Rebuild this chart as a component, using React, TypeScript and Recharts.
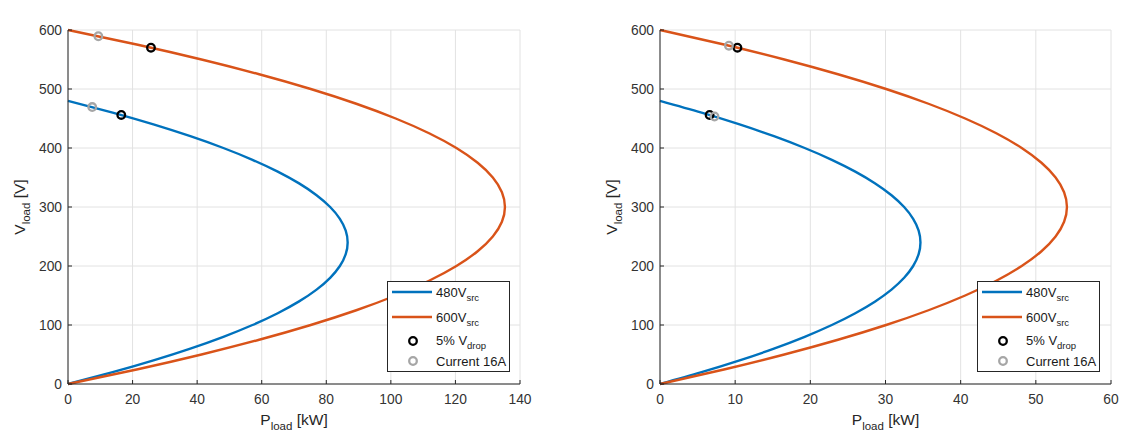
import React from 'react';
import { ComposedChart, Line, XAxis, YAxis, CartesianGrid, Legend } from 'recharts';

const BLUE = '#0072BD';
const ORANGE = '#D95319';
const AXIS = '#262626';
const GRID = '#e2e2e2';
const GRAY = '#a6a6a6';

// load voltage samples [V]
const vload480 = [0, 20, 40, 60, 80, 100, 120, 140, 160, 180, 200, 220, 240, 260, 280, 300, 320, 340, 360, 380, 400, 420, 440, 460, 480];
const vload600 = [0, 25, 50, 75, 100, 125, 150, 175, 200, 225, 250, 275, 300, 325, 350, 375, 400, 425, 450, 475, 500, 525, 550, 575, 600];

// load power [kW], 40 m cable
const pload480At40m = [0, 13.83, 26.47, 37.89, 48.12, 57.14, 64.96, 71.58, 76.99, 81.2, 84.21, 86.02, 86.62, 86.02, 84.21, 81.2, 76.99, 71.58, 64.96, 57.14, 48.12, 37.89, 26.47, 13.83, 0];
const pload600At40m = [0, 21.62, 41.35, 59.21, 75.19, 89.29, 101.5, 111.84, 120.3, 126.88, 131.58, 134.4, 135.34, 134.4, 131.58, 126.88, 120.3, 111.84, 101.5, 89.29, 75.19, 59.21, 41.35, 21.62, 0];

// 100 m cable
const pload480At100m = [0, 5.53, 10.59, 15.16, 19.25, 22.86, 25.98, 28.63, 30.8, 32.48, 33.68, 34.41, 34.65, 34.41, 33.68, 32.48, 30.8, 28.63, 25.98, 22.86, 19.25, 15.16, 10.59, 5.53, 0];
const pload600At100m = [0, 8.65, 16.54, 23.68, 30.08, 35.72, 40.6, 44.74, 48.12, 50.75, 52.63, 53.76, 54.14, 53.76, 52.63, 50.75, 48.12, 44.74, 40.6, 35.72, 30.08, 23.68, 16.54, 8.65, 0];

// markers: 480V curve first, then 600V curve
const drop5V = [456, 570];
const drop5PAt40m = [16.5, 25.7];
const drop5PAt100m = [6.6, 10.3];
const cur16VAt40m = [469.4, 589.4];
const cur16PAt40m = [7.5, 9.4];
const cur16VAt100m = [453.4, 573.4];
const cur16PAt100m = [7.25, 9.17];

const xTicks40m = [0, 20, 40, 60, 80, 100, 120, 140];
const xTicks100m = [0, 10, 20, 30, 40, 50, 60];
const yTicks = [0, 100, 200, 300, 400, 500, 600];

const toRows = (p: number[], v: number[]) => p.map((x, i) => ({ p: x, v: v[i] }));

function PlotTitle({ viewBox, text }: any) {
  const { x, y, width } = viewBox;
  return (
    <text x={x + width / 2} y={y - 7} textAnchor="middle" fontSize={15} fontWeight="bold" fill="#000">
      {text}
    </text>
  );
}

function XTitle({ viewBox }: any) {
  const { x, y, width } = viewBox;
  return (
    <text x={x + width / 2} y={y + 41} textAnchor="middle" fontSize={15.5} fill={AXIS}>
      <tspan>P</tspan>
      <tspan dy={5} fontSize={11.5}>load</tspan>
      <tspan dy={-5}> [kW]</tspan>
    </text>
  );
}

function YTitle({ viewBox }: any) {
  const { x, y, height } = viewBox;
  const cx = x - 3;
  const cy = y + height / 2;
  return (
    <text transform={`translate(${cx},${cy}) rotate(-90)`} textAnchor="middle" fontSize={15.5} fill={AXIS}>
      <tspan>V</tspan>
      <tspan dy={5} fontSize={11.5}>load</tspan>
      <tspan dy={-5}> [V]</tspan>
    </text>
  );
}

function LegendBox() {
  return (
    <svg width={123} height={91} style={{ display: 'block' }}>
      <rect x={0.5} y={0.5} width={122} height={90} fill="#fff" stroke={AXIS} />
      <line x1={5} x2={45} y1={11} y2={11} stroke={BLUE} strokeWidth={2.4} />
      <text x={49} y={16} fontSize={13} fill="#1a1a1a">
        480V<tspan dy={4} fontSize={9.5}>src</tspan>
      </text>
      <line x1={5} x2={45} y1={36} y2={36} stroke={ORANGE} strokeWidth={2.4} />
      <text x={49} y={41} fontSize={13} fill="#1a1a1a">
        600V<tspan dy={4} fontSize={9.5}>src</tspan>
      </text>
      <circle cx={26} cy={60} r={3.8} fill="none" stroke="#000" strokeWidth={2.3} />
      <text x={49} y={64} fontSize={13} fill="#1a1a1a">
        5% V<tspan dy={4} fontSize={9.5}>drop</tspan>
      </text>
      <circle cx={26} cy={80} r={3.8} fill="none" stroke={GRAY} strokeWidth={2.3} />
      <text x={49} y={85} fontSize={13} fill="#1a1a1a">
        Current 16A
      </text>
    </svg>
  );
}

interface PanelProps {
  title: string;
  width: number;
  marginLeft: number;
  marginRight: number;
  legendLeft: number;
  xMax: number;
  xTicks: number[];
  p480: number[];
  p600: number[];
  drop5P: number[];
  cur16P: number[];
  cur16V: number[];
}

function Panel(props: PanelProps) {
  const { title, width, marginLeft, marginRight, legendLeft, xMax, xTicks } = props;
  const tick = { fill: '#333', fontSize: 13.8 };
  return (
    <ComposedChart
      width={width}
      height={432}
      margin={{ top: 30, right: marginRight, bottom: 18, left: marginLeft }}
    >
      <CartesianGrid stroke={GRID} />
      <XAxis
        dataKey="p"
        type="number"
        domain={[0, xMax]}
        ticks={xTicks}
        height={30}
        stroke={AXIS}
        tick={tick}
        tickSize={-4}
        tickMargin={14}
        label={<XTitle />}
      />
      <XAxis
        xAxisId="top"
        orientation="top"
        dataKey="p"
        type="number"
        domain={[0, xMax]}
        allowDataOverflow
        ticks={xTicks}
        height={0}
        stroke={AXIS}
        tickSize={-4}
        tickFormatter={() => ''}
        label={<PlotTitle text={title} />}
      />
      <YAxis
        type="number"
        domain={[0, 600]}
        ticks={yTicks}
        width={40}
        stroke={AXIS}
        tick={tick}
        tickSize={-4}
        tickMargin={10}
        label={<YTitle />}
      />
      <YAxis
        yAxisId="right"
        orientation="right"
        type="number"
        domain={[0, 600]}
        allowDataOverflow
        ticks={yTicks}
        width={0}
        stroke={AXIS}
        tickSize={-4}
        tickFormatter={() => ''}
      />
      <Line
        data={toRows(props.p480, vload480)}
        dataKey="v"
        type="natural"
        stroke={BLUE}
        strokeWidth={2.4}
        dot={false}
        activeDot={false}
        isAnimationActive={false}
      />
      <Line
        data={toRows(props.p600, vload600)}
        dataKey="v"
        type="natural"
        stroke={ORANGE}
        strokeWidth={2.4}
        dot={false}
        activeDot={false}
        isAnimationActive={false}
      />
      <Line
        data={toRows(props.drop5P, drop5V)}
        dataKey="v"
        stroke="none"
        dot={{ r: 3.8, stroke: '#000', strokeWidth: 2.3, fill: 'none' }}
        activeDot={false}
        isAnimationActive={false}
      />
      <Line
        data={toRows(props.cur16P, props.cur16V)}
        dataKey="v"
        stroke="none"
        dot={{ r: 3.8, stroke: GRAY, strokeWidth: 2.3, fill: 'none' }}
        activeDot={false}
        isAnimationActive={false}
      />
      <Legend
        layout="vertical"
        align="center"
        verticalAlign="middle"
        content={() => <LegendBox />}
        wrapperStyle={{ left: legendLeft, top: 281, width: 123, height: 91 }}
      />
    </ComposedChart>
  );
}

export default function App() {
  return (
    <div
      style={{
        position: 'absolute',
        left: 0,
        top: 0,
        width: 1121,
        height: 432,
        background: '#fff',
        display: 'flex',
        fontFamily: '"Liberation Sans", Arial, sans-serif',
      }}
    >
      <Panel
        title="Cable length 40m, 14AWG"
        width={560}
        marginLeft={28}
        marginRight={40}
        legendLeft={387}
        xMax={140}
        xTicks={xTicks40m}
        p480={pload480At40m}
        p600={pload600At40m}
        drop5P={drop5PAt40m}
        cur16P={cur16PAt40m}
        cur16V={cur16VAt40m}
      />
      <Panel
        title="Cable length 100m, 14AWG"
        width={561}
        marginLeft={60}
        marginRight={10}
        legendLeft={417}
        xMax={60}
        xTicks={xTicks100m}
        p480={pload480At100m}
        p600={pload600At100m}
        drop5P={drop5PAt100m}
        cur16P={cur16PAt100m}
        cur16V={cur16VAt100m}
      />
    </div>
  );
}
